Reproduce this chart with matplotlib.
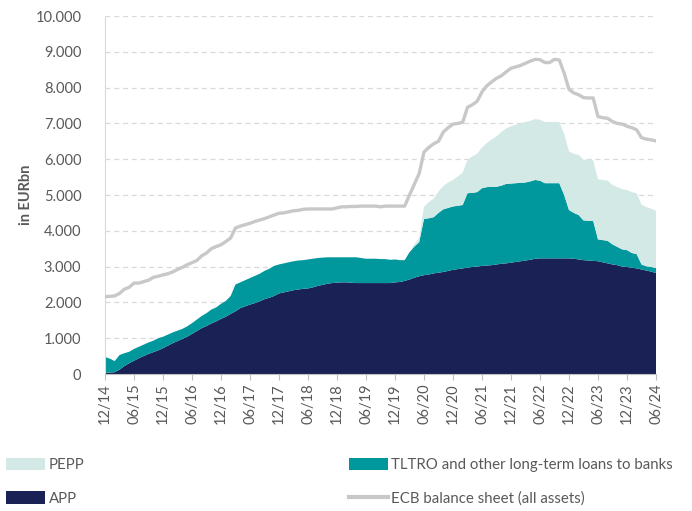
import matplotlib
matplotlib.use("Agg")
import matplotlib.pyplot as plt
import numpy as np
from matplotlib.patches import Patch
from matplotlib.lines import Line2D
from matplotlib.ticker import FuncFormatter

plt.rcParams["font.family"] = ["Lato", "DejaVu Sans"]

# monthly, 12/2014 .. 06/2024, EUR bn
app = [
    30, 40, 50, 120, 220, 300, 370, 440, 500, 560, 610, 660,
    720, 790, 860, 920, 980, 1040, 1120, 1200, 1280, 1340, 1410, 1470,
    1540, 1600, 1680, 1750, 1840, 1890, 1940, 1980, 2030, 2090, 2130, 2180,
    2250, 2280, 2310, 2340, 2360, 2380, 2390, 2420, 2460, 2490, 2520, 2540,
    2550, 2560, 2560, 2550, 2540, 2540, 2540, 2540, 2540, 2540, 2540, 2540,
    2560, 2570, 2600, 2640, 2690, 2730, 2760, 2780, 2810, 2830, 2850, 2880,
    2910, 2930, 2950, 2970, 2990, 3000, 3020, 3030, 3040, 3060, 3080, 3090,
    3110, 3130, 3150, 3170, 3190, 3220, 3230, 3230, 3230, 3230, 3230, 3230,
    3230, 3220, 3200, 3180, 3170, 3160, 3150, 3120, 3090, 3060, 3040, 3000,
    2990, 2970, 2950, 2920, 2890, 2860, 2820,
]
tltro = [
    445, 390, 310, 410, 360, 320, 330, 320, 320, 320, 320, 340,
    320, 310, 300, 290, 280, 290, 300, 320, 340, 360, 390, 390,
    420, 440, 500, 750, 720, 730, 740, 760, 770, 790, 810, 840,
    810, 810, 810, 810, 810, 800, 810, 800, 780, 760, 740, 720,
    710, 700, 700, 710, 720, 700, 680, 680, 680, 670, 670, 650,
    640, 610, 580, 760, 870, 950, 1570, 1570, 1570, 1670, 1750, 1760,
    1770, 1770, 1770, 2080, 2070, 2080, 2170, 2190, 2190, 2170, 2180, 2220,
    2210, 2200, 2190, 2180, 2190, 2200, 2170, 2100, 2100, 2100, 2100, 1770,
    1350, 1280, 1240, 1110, 1110, 1120, 610, 620, 630, 560, 510, 480,
    470, 410, 400, 140, 120, 130, 140,
]
pepp = [0] * 64 + [
    60, 120, 340, 450, 520, 600, 650, 710,
    740, 820, 900, 930, 1020, 1070, 1140, 1230, 1320, 1410, 1500, 1550,
    1600, 1640, 1660, 1690, 1690, 1700, 1700, 1710, 1710, 1710, 1710, 1700,
    1640, 1650, 1680, 1700, 1700, 1690, 1680, 1680, 1680, 1660, 1670, 1680,
    1680, 1700, 1700, 1670, 1650, 1630, 1600,
]
ecb_total = [
    2160, 2170, 2180, 2250, 2370, 2420, 2540, 2540, 2580, 2620, 2700, 2730,
    2770, 2800, 2850, 2920, 2980, 3050, 3110, 3170, 3300, 3380, 3500, 3560,
    3610, 3700, 3800, 4080, 4130, 4170, 4210, 4260, 4300, 4340, 4390, 4440,
    4490, 4500, 4530, 4560, 4570, 4600, 4610, 4610, 4610, 4610, 4610, 4610,
    4640, 4670, 4670, 4680, 4680, 4690, 4690, 4690, 4690, 4670, 4690, 4690,
    4690, 4690, 4690, 5000, 5300, 5600, 6200, 6330, 6430, 6500, 6760, 6880,
    6980, 7000, 7030, 7450, 7520, 7620, 7880, 8050, 8160, 8260, 8330, 8440,
    8540, 8580, 8620, 8680, 8740, 8790, 8780, 8700, 8700, 8790, 8770, 8400,
    7950, 7850, 7800, 7720, 7710, 7710, 7190, 7160, 7140, 7050, 7000, 6980,
    6920, 6880, 6820, 6600, 6560, 6540, 6510,
]
tick_labels = [
    "12/14", "06/15", "12/15", "06/16", "12/16", "06/17", "12/17", "06/18",
    "12/18", "06/19", "12/19", "06/20", "12/20", "06/21", "12/21", "06/22",
    "12/22", "06/23", "12/23", "06/24",
]

C_APP = "#1a2155"
C_TLTRO = "#00989c"
C_PEPP = "#d3e9e6"
C_ECB = "#c8c8c8"
TXT = "#595959"

months = np.arange(len(app))

fig = plt.figure(figsize=(6.92, 5.11), dpi=100)
ax = fig.add_axes([105 / 692, 1 - 374 / 511, 551 / 692, 358 / 511])

ax.stackplot(months, app, tltro, pepp, colors=[C_APP, C_TLTRO, C_PEPP],
             linewidth=0, zorder=2)
ax.plot(months, ecb_total, color=C_ECB, linewidth=2.4, zorder=3,
        solid_joinstyle="round")

ax.set_xlim(0, months[-1])
ax.set_ylim(0, 10000)
ax.set_yticks(np.arange(0, 10001, 1000))
ax.yaxis.set_major_formatter(FuncFormatter(lambda v, p: f"{int(v):,}".replace(",", ".")))
ax.set_xticks(np.arange(0, len(app), 6))
ax.set_xticklabels(tick_labels, rotation=90)

ax.grid(axis="y", color="#d9d9d9", linestyle=(0, (4, 3)), linewidth=0.9, zorder=0)
ax.set_axisbelow(True)
for s in ("top", "right"):
    ax.spines[s].set_visible(False)
ax.spines["left"].set_color("#d9d9d9")
ax.spines["bottom"].set_color("#bfbfbf")
ax.tick_params(axis="y", length=0, pad=17, labelsize=10.5, labelcolor=TXT)
ax.tick_params(axis="x", length=4, color="#bfbfbf", pad=3, labelsize=10.5, labelcolor=TXT)

fig.text(26 / 692, 1 - 195 / 511, "in EURbn", rotation=90, ha="center", va="center",
         fontsize=10.5, fontweight="bold", color=TXT)

handles = [
    Patch(facecolor=C_PEPP, label="PEPP"),
    Patch(facecolor=C_APP, label="APP"),
    Patch(facecolor=C_TLTRO, label="TLTRO and other long-term loans to banks"),
    Line2D([0], [0], color=C_ECB, linewidth=3, label="ECB balance sheet (all assets)"),
]
leg = fig.legend(handles=handles, loc="upper left", bbox_to_anchor=(0.0, 1 - 452 / 511),
                 ncol=2, frameon=False, fontsize=10.8, handlelength=2.6, handleheight=0.9,
                 handletextpad=0.25, columnspacing=17.6, labelspacing=1.25, borderaxespad=0)
for t in leg.get_texts():
    t.set_color(TXT)

fig.savefig("out.png", dpi=100)
